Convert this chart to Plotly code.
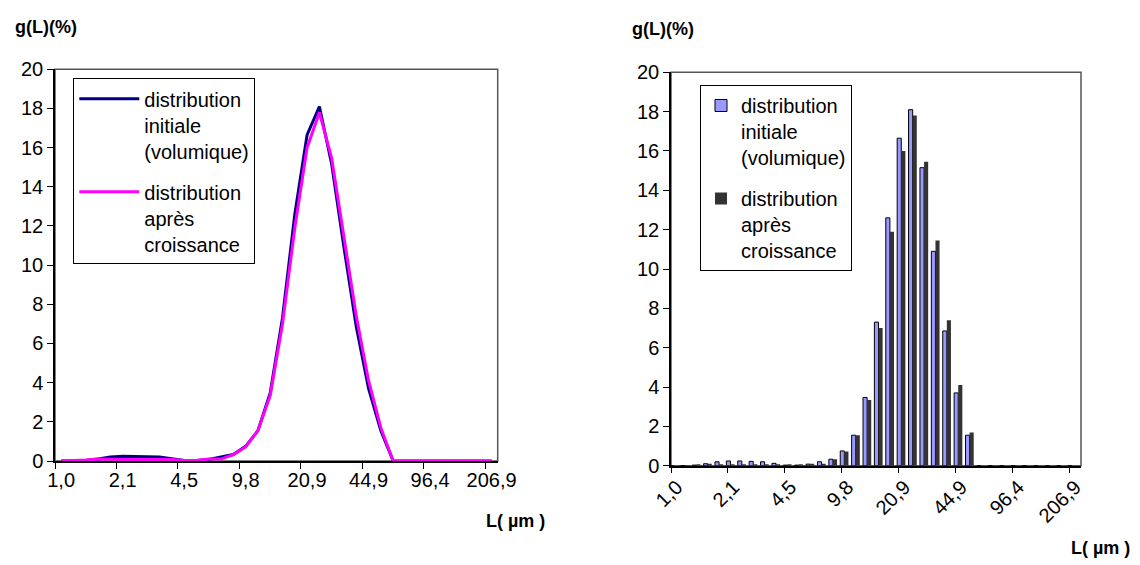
import plotly.graph_objects as go

categories = ["1,0", "1,2", "1,4", "1,6", "1,8", "2,1", "2,5", "2,9", "3,3", "3,9",
              "4,5", "5,3", "6,1", "7,1", "8,3", "9,8", "11,4", "13,2", "15,4", "17,9",
              "20,9", "24,3", "28,3", "33,0", "38,5", "44,9", "52,2", "60,8", "70,9", "82,6",
              "96,4", "112,3", "130,8", "152,3", "177,4", "206,9"]

initiale = [0, 0.01, 0.03, 0.1, 0.2, 0.24, 0.24, 0.22, 0.2, 0.12,
            0.03, 0.03, 0.08, 0.2, 0.33, 0.75, 1.55, 3.47, 7.3, 12.6,
            16.65, 18.1, 15.15, 10.9, 6.85, 3.7, 1.55, 0, 0, 0,
            0, 0, 0, 0, 0, 0]

apres = [0, 0.01, 0.05, 0.1, 0.08, 0.08, 0.08, 0.08, 0.08, 0.08,
         0.03, 0.03, 0.1, 0.1, 0.33, 0.72, 1.55, 3.34, 7.0, 11.9,
         16.0, 17.8, 15.45, 11.45, 7.4, 4.1, 1.69, 0, 0, 0,
         0, 0, 0, 0, 0, 0]

name_init = "distribution<br>initiale<br>(volumique)"
name_apres = "distribution<br>après<br>croissance"

# page body has an 8px margin: figure sits at (8, 8) in the window
OFF = 8
W, H = 1140 - OFF, 565 - OFF
FONT = "Liberation Sans, Arial, sans-serif"

def px(x):
    return (x - OFF) / W

def py(y):
    return 1 - (y - OFF) / H

fig = go.Figure()

# Left: lines
fig.add_trace(go.Scatter(x=categories, y=initiale, mode="lines", name=name_init,
                         line=dict(color="#000080", width=3), legend="legend",
                         legendgroup="a", xaxis="x", yaxis="y"))
fig.add_trace(go.Scatter(x=categories, y=apres, mode="lines", name=name_apres,
                         line=dict(color="#FF00FF", width=3), legend="legend",
                         legendgroup="b", xaxis="x", yaxis="y"))

# Right: bars
fig.add_trace(go.Bar(x=categories, y=initiale, name=name_init, legend="legend2",
                     legendgroup="c", marker=dict(color="#9999FF", line=dict(color="#000000", width=1)),
                     width=0.36, offset=-0.64, xaxis="x2", yaxis="y2"))
fig.add_trace(go.Bar(x=categories, y=apres, name=name_apres, legend="legend2",
                     legendgroup="d", marker=dict(color="#333333", line=dict(width=0)),
                     width=0.36, offset=-0.28, xaxis="x2", yaxis="y2"))

xcommon = dict(type="category", tickson="boundaries", tickmode="linear", tick0=0, dtick=5,
               ticks="outside", ticklen=6, tickcolor="black", showline=True, linecolor="black",
               linewidth=1.5, showgrid=False, zeroline=False, automargin=False,
               tickfont=dict(family=FONT, size=20, color="black"), range=[-0.5, 35.5])
ycommon = dict(range=[0, 20], dtick=2, ticks="outside", ticklen=6, tickcolor="black",
               showline=True, linecolor="black", linewidth=1.5, showgrid=False, zeroline=False,
               automargin=False, tickfont=dict(family=FONT, size=20, color="black"))

fig.update_layout(
    width=W, height=H,
    margin=dict(l=0, r=0, t=0, b=0, autoexpand=False),
    paper_bgcolor="white", plot_bgcolor="white",
    font=dict(family=FONT, color="black"),
    barmode="overlay",
    xaxis=dict(domain=[px(55), px(497.7)], anchor="y", tickangle=0, **xcommon),
    yaxis=dict(domain=[py(461), py(69.3)], anchor="x", **ycommon),
    xaxis2=dict(domain=[px(671), px(1081)], anchor="y2", tickangle=-45, **xcommon),
    yaxis2=dict(domain=[py(465.7), py(72.3)], anchor="x2", **ycommon),
    legend=dict(x=px(73.3), y=py(78.3), xanchor="left", yanchor="top",
                bordercolor="black", borderwidth=1, bgcolor="white",
                font=dict(family=FONT, size=20, color="black"), valign="top",
                itemwidth=60, traceorder="grouped", tracegroupgap=12),
    legend2=dict(x=px(700), y=py(85), xanchor="left", yanchor="top",
                 bordercolor="black", borderwidth=1, bgcolor="white",
                 font=dict(family=FONT, size=20, color="black"), valign="top",
                 traceorder="grouped", tracegroupgap=12),
    showlegend=True,
)

# frames (top/right borders)
for xr, yr in (("x domain", "y domain"), ("x2 domain", "y2 domain")):
    fig.add_shape(type="rect", xref=xr, yref=yr, x0=0, x1=1, y0=0, y1=1,
                  line=dict(color="#555555", width=1.5), layer="below")

ann = [
    ("g(L)(%)", 46, 27),
    ("g(L)(%)", 663, 29),
    ("L( µm )", 515, 521),
    ("L( µm )", 1100, 548),
]
for text, x, y in ann:
    fig.add_annotation(text=f"<b>{text}</b>", x=px(x), y=py(y), xref="paper", yref="paper",
                       showarrow=False, xanchor="center", yanchor="middle",
                       font=dict(family=FONT, size=18, color="black"))

fig.write_html("out.html")
